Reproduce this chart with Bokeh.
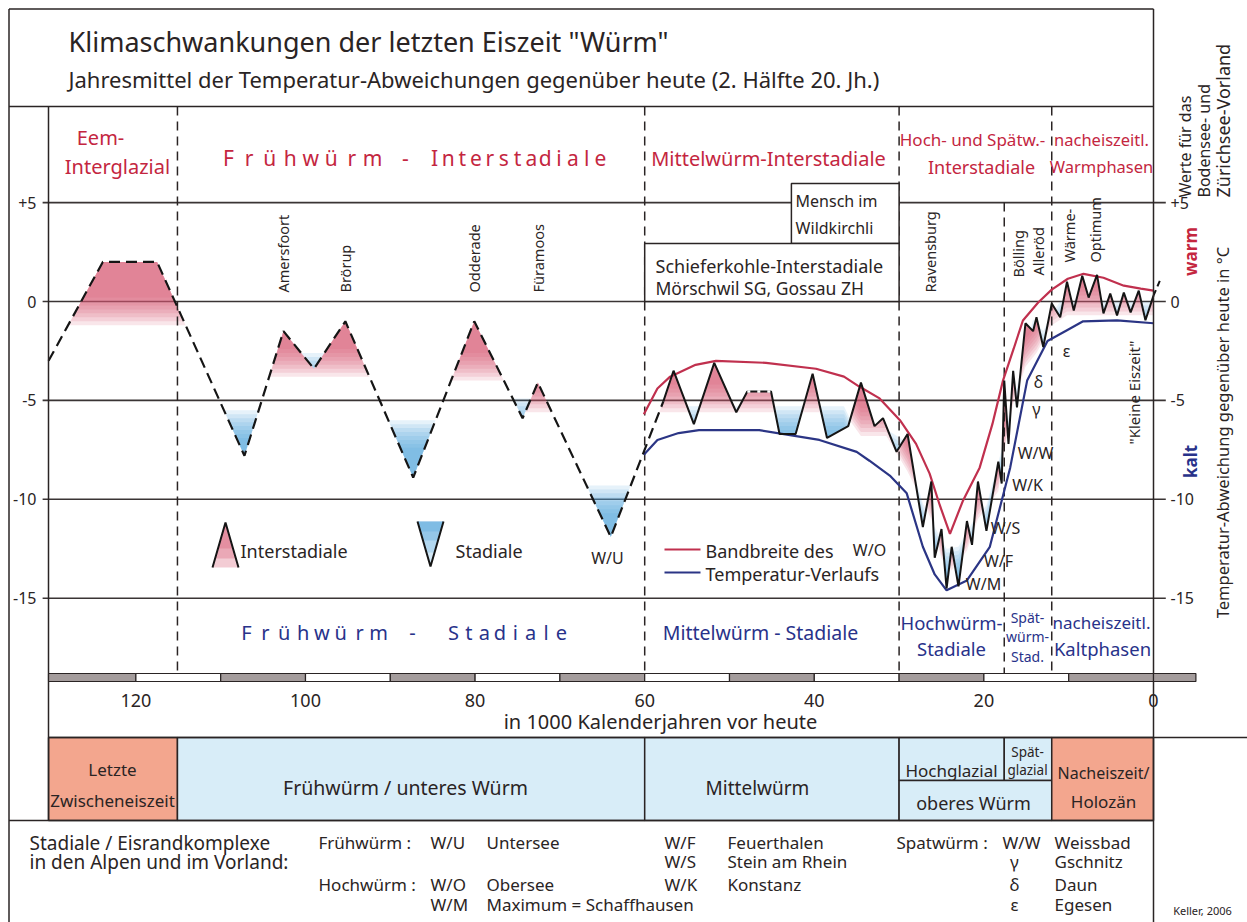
import numpy as np
from bokeh.plotting import figure
from bokeh.models import Range1d
from bokeh.embed import file_html
from bokeh.resources import INLINE
from bokeh.core.properties import value

# ---------------- data ----------------
# temperature deviation curve (kyr before present, deg C)
early_kyr = [130.3, 123.9, 117.5, 107.2, 102.6, 99.0, 95.3, 87.3, 80.1, 74.4, 72.6, 64.0, 57.8]
early_temp = [-3.0, 2.0, 2.0, -7.8, -1.5, -3.4, -1.0, -8.9, -1.0, -5.9, -4.1, -11.9, -5.05]

late_kyr = [57.8, 56.6, 54.2, 51.8, 49.2, 47.9, 45.1, 44.1, 42.2, 40.2, 38.5, 36.0, 34.5, 32.9, 31.9, 30.3, 29.0,
            27.2, 26.2, 25.8, 25.0, 24.4, 23.8, 23.0, 22.0, 21.4, 20.7, 19.7, 18.3, 17.9, 17.6, 17.1, 16.55, 16.1,
            15.1, 14.2, 13.8, 13.0, 12.0, 11.0, 10.2, 9.4, 8.4, 7.65, 6.66, 5.9, 5.1, 4.3, 3.5, 2.7, 1.74, 0.95, 0.0]
late_temp = [-5.05, -3.5, -6.2, -3.1, -5.6, -4.55, -4.55, -6.7, -6.7, -3.65, -6.9, -6.3, -4.1, -6.3, -5.9, -7.6, -6.7,
             -11.4, -9.1, -12.95, -11.5, -14.5, -12.4, -14.4, -11.1, -12.3, -9.1, -11.6, -8.1, -9.2, -4.0, -7.2, -3.5, -5.35,
             -1.1, -1.5, -0.8, -2.3, -0.1, -0.8, 1.0, -0.45, 1.3, 0.2, 1.35, -0.6, 0.4, -0.7, 0.45, -0.55, 0.55, -0.95, 0.3]
plateau_kyr = [47.9, 45.1]
plateau_temp = [-4.55, -4.55]
tail_kyr = [0.0, -0.8]
tail_temp = [0.3, 1.1]

# band of the temperature course
upper_kyr = [60.1, 58.5, 57.0, 54.0, 51.6, 45.7, 39.8, 36.5, 34.7, 32.3, 29.9, 28.0, 26.4, 25.2, 24.0, 22.5, 20.5,
             19.0, 17.75, 16.5, 15.4, 13.6, 12.0, 10.1, 8.25, 5.9, 3.5, 1.5, 0.0]
upper_temp = [-5.7, -4.4, -3.8, -3.2, -3.0, -3.1, -3.4, -3.8, -4.3, -4.9, -6.0, -7.2, -8.7, -10.3, -11.75, -10.1, -8.4,
              -6.2, -4.0, -2.4, -0.96, -0.05, 0.6, 1.15, 1.4, 1.2, 0.8, 0.65, 0.55]
lower_kyr = [60.1, 58.5, 56.0, 53.6, 46.5, 39.4, 35.0, 33.5, 31.1, 29.1, 27.2, 25.8, 24.4, 22.0, 19.3, 16.9, 14.9,
             12.5, 10.2, 8.3, 4.3, 0.0]
lower_temp = [-7.75, -7.0, -6.65, -6.5, -6.5, -7.0, -7.6, -8.05, -8.8, -9.7, -12.4, -13.8, -14.6, -14.1, -12.4, -8.4,
              -4.0, -2.0, -1.45, -1.0, -0.95, -1.1]

# extent of the red (interstadial) shading below the curve; 20 = none
red_shade_kyr = [130.3, 113.0, 112.9, 105.4, 105.3, 91.5, 91.4, 84.6, 84.5, 76.5, 76.4, 74.3, 74.2, 70.5, 70.4, 59.1,
                 59.0, 36.5, 34.5, 31.5, 29.0, 26.2, 25.0, 23.8, 22.0, 20.7, 18.3, 17.6, 16.55, 15.1, 13.8, 12.0, 10.2, 0.0]
red_shade_floor = [-1.2, -1.2, 20, 20, -3.8, -3.8, 20, 20, -4.0, -4.0, 20, 20, -5.6, -5.6, 20, 20,
                   -5.6, -5.6, -6.8, -6.8, -8.6, -11.0, -13.0, -13.6, -12.6, -11.0, -9.6, -7.6, -5.2, -3.3, -2.6, -1.2, -0.7, -0.7]
# extent of the blue (stadial) shading above the curve; -30 = none
blue_shade_kyr = [130.3, 110.6, 110.5, 104.0, 103.9, 100.6, 100.5, 97.5, 97.4, 90.6, 90.5, 84.5, 84.4, 76.1, 76.0, 73.0,
                  72.9, 67.05, 66.95, 61.0, 60.9, 56.9, 56.8, 36.5, 35.0, 31.0, 29.5, 27.2, 25.8, 24.4, 23.0, 21.4,
                  19.7, 17.9, 17.1, 16.1, 14.2, 13.0, 12.0, 11.0, 0.0]
blue_shade_ceil = [-30, -30, -5.5, -5.5, -30, -30, -2.6, -2.6, -30, -30, -6.0, -6.0, -30, -30, -4.9, -4.9,
                   -30, -30, -9.3, -9.3, -30, -30, -5.3, -5.3, -6.6, -6.6, -7.0, -10.2, -11.4, -12.5, -12.4, -11.2,
                   -10.3, -7.5, -5.8, -4.3, -0.9, -1.5, -0.6, 0.0, 0.0]

temp_ticks = [5, 0, -5, -10, -15]
temp_tick_labels = ["+5", "0", "-5", "-10", "-15"]
kyr_ticks = [120, 100, 80, 60, 40, 20, 0]
kyr_tick_labels = ["120", "100", "80", "60", "40", "20", "0"]
scale_edges = [130.3, 120, 110, 100, 90, 80, 70, 60, 50, 40, 30, 20, 10, 0, -5]
phase_bounds = [115.1, 60.0, 30.0, 12.0]
late_bound = 17.6

period_start = [130.3, 115.1, 60.0, 30.0, 17.6, 30.0, 12.0]
period_end = [115.1, 60.0, 30.0, 17.6, 12.0, 12.0, 0.0]
period_warm = [True, False, False, False, False, False, True]

peak_names = ["Amersfoort", "Brörup", "Odderade", "Füramoos", "Ravensburg", "Bölling", "Alleröd", "Wärme-", "Optimum"]
peak_kyr = [102.6, 95.3, 80.1, 72.6, 26.3, 16.0, 13.6, 10.0, 6.9]
peak_label_base = [292, 292, 292, 292, 292, 277, 275, 262, 262]

# ---------------- figure ----------------
W, H = 1247, 922
FONT = "Noto Sans"
INK = "#2a2424"
RED = "#c4263f"
NAVY = "#28328a"
FILL_RED = "#d6566f"
FILL_BLUE = "#4fa3dc"

p = figure(width=W, height=H, output_backend="svg", toolbar_location=None,
           x_axis_type=None, y_axis_type=None, min_border=0,
           x_range=Range1d(1153 / 8.48, (1153 - W) / 8.48),
           y_range=Range1d((301 - H) / 19.78, 301 / 19.78))
p.outline_line_color = None
p.background_fill_color = "white"
p.border_fill_color = "white"
p.extra_x_ranges = {"px": Range1d(0, W)}
p.extra_y_ranges = {"px": Range1d(H, 0)}


def ptext(s, x, y, size=16, color=INK, align="center", angle=0.0, xr="px", yr="px", baseline="middle", style="normal"):
    p.text(x=[x], y=[y], text=[s], text_font=value(FONT), text_font_size=f"{size}px", text_color=color,
           text_align=align, text_baseline=baseline, angle=angle, x_range_name=xr, y_range_name=yr,
           text_font_style=style)


def spaced(word, x0, x1, y, size, color):
    xs_ = list(np.linspace(x0, x1, len(word)))
    p.text(x=xs_, y=[y] * len(word), text=list(word), text_font=value(FONT), text_font_size=f"{size}px",
           text_color=color, text_align="center", text_baseline="middle", x_range_name="px", y_range_name="px")


def pline(xs, ys, color=INK, width=1.5, dash="solid", xr="px", yr="px"):
    p.line(x=xs, y=ys, line_color=color, line_width=width, line_dash=dash, x_range_name=xr, y_range_name=yr)


# ---- bottom period band ----
top_px = [737, 737, 737, 737, 737, 780, 737]
bot_px = [820, 820, 820, 780, 780, 820, 820]
p.quad(left=period_start, right=period_end, top=top_px, bottom=bot_px,
       fill_color=["#f3a68e" if w else "#d8edf8" for w in period_warm], fill_alpha=1.0,
       line_color=INK, line_width=1.5, y_range_name="px")

# ---- gridlines ----
p.segment(x0=[131.0] * len(temp_ticks), x1=[-1.45] * len(temp_ticks), y0=temp_ticks, y1=temp_ticks,
          line_color="#3a3434", line_width=1.6)

# ---- shading ----
all_kyr = np.array(early_kyr[:-1] + late_kyr, dtype=float)
all_temp = np.array(early_temp[:-1] + late_temp, dtype=float)
xs = np.unique(np.concatenate([np.linspace(0.0, 130.3, 5000), all_kyr]))
curve = np.interp(xs, all_kyr[::-1], all_temp[::-1])
floor = np.interp(xs, np.array(red_shade_kyr)[::-1], np.array(red_shade_floor, dtype=float)[::-1])
ceil = np.interp(xs, np.array(blue_shade_kyr)[::-1], np.array(blue_shade_ceil, dtype=float)[::-1])
for k in range(8):
    fl = floor + 0.2 * k
    p.varea(x=xs, y1=np.minimum(curve, fl), y2=curve, fill_color=FILL_RED, fill_alpha=0.15)
for k in range(8):
    cl = ceil - 0.2 * k
    p.varea(x=xs, y1=curve, y2=np.maximum(curve, cl), fill_color=FILL_BLUE, fill_alpha=0.14)

# ---- phase boundaries ----
for b in phase_bounds:
    pline([b, b], [106, 681], width=1.5, dash="9 6", xr="default")
pline([late_bound, late_bound], [202, 681], width=1.5, dash="9 6", xr="default")

# boxes in Mittelwürm header
p.quad(left=[42.7, 60.0], right=[30.0, 30.0], top=[183, 243], bottom=[243, 301], fill_color="white",
       line_color=INK, line_width=1.5, y_range_name="px")

# ---- band lines and curve ----
p.line(upper_kyr, upper_temp, line_color="#c0304e", line_width=2.2)
p.line(lower_kyr, lower_temp, line_color="#2b3585", line_width=2.2)
p.line(early_kyr, early_temp, line_color="#151515", line_width=2.2, line_dash="11 6")
p.line(late_kyr, late_temp, line_color="#151515", line_width=2.0)
p.line(plateau_kyr, plateau_temp, line_color="white", line_width=2.4, line_dash="3 7")
p.line(tail_kyr, tail_temp, line_color="#151515", line_width=2.0, line_dash="6 4")

# ---- frame lines ----
pline([8.5, 1153], [8.5, 8.5])
pline([8.5, 8.5], [8.5, 922])
pline([8.5, 1153], [106, 106])
pline([1153, 1153], [8.5, 922])
pline([48, 48], [106, 820])
pline([48, 1247], [737, 737])
pline([8.5, 1153], [820, 820])

# scale bar on the time axis
sb_l = scale_edges[:-1]
sb_r = scale_edges[1:]
sb_col = ["#a49c9c" if i % 2 == 0 else "white" for i in range(len(sb_l))]
sb_col[-1] = "#a49c9c"
p.quad(left=sb_l, right=sb_r, top=[673] * len(sb_l), bottom=[681] * len(sb_l), fill_color=sb_col,
       line_color=INK, line_width=1.2, y_range_name="px")

# ---- axes labels ----
for t, lab in zip(temp_ticks, temp_tick_labels):
    ptext(lab, 36, t, 16, align="right", yr="default")
    ptext(lab, 1170, t, 16, align="left", yr="default")
for k, lab in zip(kyr_ticks, kyr_tick_labels):
    ptext(lab, k, 700, 18, xr="default")
ptext("in 1000 Kalenderjahren vor heute", 660, 721, 20)

# ---- titles ----
ptext('Klimaschwankungen der letzten Eiszeit "Würm"', 68, 41, 27, align="left")
ptext("Jahresmittel der Temperatur-Abweichungen gegenüber heute (2. Hälfte 20. Jh.)", 68, 78, 22, align="left")

# right column
R = np.pi / 2
ptext("Werte für das", 1184, 197, 16, align="left", angle=R)
ptext("Bodensee- und", 1203, 197, 16, align="left", angle=R)
ptext("Zürichsee-Vorland", 1222, 197, 18, align="left", angle=R)
ptext("warm", 1190, 251, 17, color=RED, angle=R, style="bold")
ptext("kalt", 1190, 461, 17, color=NAVY, angle=R, style="bold")
ptext("Temperatur-Abweichung gegenüber heute in °C", 1222, 432, 16.5, angle=R)

# ---- header labels ----
ptext("Eem-", 100, 137, 20, color=RED)
ptext("Interglazial", 117, 166, 20, color=RED)
spaced("Frühwürm", 228, 372, 157, 21, RED)
ptext("-", 405, 157, 21, color=RED)
spaced("Interstadiale", 434, 600, 157, 21, RED)
ptext("Mittelwürm-Interstadiale", 768, 158, 20, color=RED)
ptext("Hoch- und Spätw.-", 972, 139, 17, color=RED)
ptext("Interstadiale", 981, 166, 18, color=RED)
ptext("nacheiszeitl.", 1101, 139, 16.5, color=RED)
ptext("Warmphasen", 1101, 166, 16.5, color=RED)
ptext("Mensch im", 836, 200, 16, align="center")
ptext("Wildkirchli", 834, 227, 16, align="center")
ptext("Schieferkohle-Interstadiale", 655, 265, 18, align="left")
ptext("Mörschwil SG, Gossau ZH", 655, 287, 17.5, align="left")

for name, k, base in zip(peak_names, peak_kyr, peak_label_base):
    ptext(name, k, base, 14.5, align="left", angle=R, xr="default")

ptext('"Kleine Eiszeit"', 1133, 392, 15, angle=R)

# ---- legend inside plot ----
for yl, a in [(567, 0.3), (558, 0.3), (548, 0.3)]:
    hw = 13 * (yl - 522) / 45
    p.patch(x=[225 - hw, 225, 225 + hw], y=[yl, 522, yl], fill_color=FILL_RED, fill_alpha=a, line_alpha=0,
            x_range_name="px", y_range_name="px")
pline([212, 225, 238], [567, 522, 567], color="#151515", width=2)
for yl, a in [(565, 0.25), (552, 0.25), (540, 0.3), (531, 0.3)]:
    hw = 13 * (566 - yl) / 45
    p.patch(x=[417, 443, 430 + hw, 430 - hw], y=[521, 521, yl, yl], fill_color=FILL_BLUE, fill_alpha=a,
            line_alpha=0, x_range_name="px", y_range_name="px")
pline([417, 430, 443], [521, 566, 521], color="#151515", width=2)
ptext("Interstadiale", 240, 550, 18, align="left")
ptext("Stadiale", 455, 550, 18, align="left")
ptext("W/U", 607, 557, 16)
pline([664, 700], [549, 549], color="#c0304e", width=2.2)
pline([664, 700], [572, 572], color="#2b3585", width=2.2)
ptext("Bandbreite des", 705, 550, 18, align="left")
ptext("Temperatur-Verlaufs", 705, 573, 18, align="left")

for lab, x, y in [("W/O", 869, 549), ("W/S", 1005, 527), ("W/F", 998, 560), ("W/M", 983, 583),
                  ("W/K", 1027, 484), ("W/W", 1035, 452), ("ε", 1066, 350), ("δ", 1038, 381), ("γ", 1036, 408)]:
    ptext(lab, x, y, 16)

# ---- lower labels in plot ----
spaced("Frühwürm", 246, 378, 632, 20, NAVY)
ptext("-", 412, 632, 20, color=NAVY)
spaced("Stadiale", 453, 561, 632, 20, NAVY)
ptext("Mittelwürm - Stadiale", 760, 632, 19.5, color=NAVY)
ptext("Hochwürm-", 951, 622, 18.5, color=NAVY)
ptext("Stadiale", 951, 648, 18.5, color=NAVY)
ptext("Spät-", 1027, 617, 14, color=NAVY)
ptext("würm-", 1027, 636, 14, color=NAVY)
ptext("Stad.", 1027, 656, 14, color=NAVY)
ptext("nacheiszeitl.", 1101, 622, 17, color=NAVY)
ptext("Kaltphasen", 1102, 648, 18.5, color=NAVY)

# ---- period band labels ----
ptext("Letzte", 112, 769, 17)
ptext("Zwischeneiszeit", 112, 800, 17)
ptext("Frühwürm / unteres Würm", 405, 787, 19.5)
ptext("Mittelwürm", 757, 787, 19)
ptext("Hochglazial", 951, 770, 17)
ptext("Spät-", 1027, 751, 13.5)
ptext("glazial", 1027, 769, 13.5)
ptext("oberes Würm", 973, 802, 18)
ptext("Nacheiszeit/", 1103, 772, 16)
ptext("Holozän", 1103, 801, 17)

# ---- key at bottom ----
rows = [842, 861, 884, 904]
ptext("Stadiale / Eisrandkomplexe", 29, rows[0], 19, align="left")
ptext("in den Alpen und im Vorland:", 29, rows[1], 19, align="left")
ptext("Frühwürm :", 318, rows[0], 17, align="left")
ptext("Hochwürm :", 318, rows[2], 17, align="left")
ptext("W/U", 430, rows[0], 17, align="left")
ptext("Untersee", 486, rows[0], 17, align="left")
ptext("W/O", 430, rows[2], 17, align="left")
ptext("Obersee", 486, rows[2], 17, align="left")
ptext("W/M", 430, rows[3], 17, align="left")
ptext("Maximum = Schaffhausen", 486, rows[3], 17, align="left")
ptext("W/F", 664, rows[0], 17, align="left")
ptext("Feuerthalen", 727, rows[0], 17, align="left")
ptext("W/S", 664, rows[1], 17, align="left")
ptext("Stein am Rhein", 727, rows[1], 17, align="left")
ptext("W/K", 664, rows[2], 17, align="left")
ptext("Konstanz", 727, rows[2], 17, align="left")
ptext("Spatwürm :", 896, rows[0], 17, align="left")
ptext("W/W", 1002, rows[0], 17, align="left")
ptext("Weissbad", 1054, rows[0], 17, align="left")
ptext("γ", 1014, rows[1], 17)
ptext("Gschnitz", 1054, rows[1], 17, align="left")
ptext("δ", 1014, rows[2], 17)
ptext("Daun", 1054, rows[2], 17, align="left")
ptext("ε", 1014, rows[3], 17)
ptext("Egesen", 1054, rows[3], 17, align="left")
ptext("Keller, 2006", 1202, 910, 11)

open("out.html", "w").write(file_html(p, INLINE))
